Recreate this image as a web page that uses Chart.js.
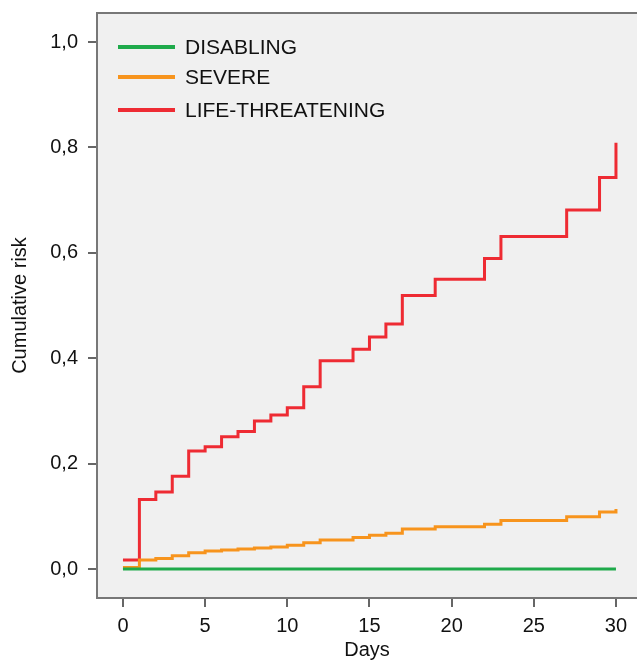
<!DOCTYPE html>
<html>
<head>
<meta charset="utf-8">
<script src="https://cdn.jsdelivr.net/npm/chart.js@4/dist/chart.umd.min.js"></script>
<style>
  html, body { margin: 0; padding: 0; background: #fff; }
  #wrap { width: 637px; height: 663px; }
</style>
</head>
<body>
<div id="wrap"><canvas id="riskChart"></canvas></div>
<script>
// days where the curve changes, and cumulative risk from that day on
const seriesNames = ['DISABLING', 'SEVERE', 'LIFE-THREATENING'];

const disablingDays = [0, 30];
const disablingRisk = [0, 0];

const severeDays = [0, 1, 2, 3, 4, 5, 6, 7, 8, 9, 10, 11, 12, 14, 15, 16, 17, 19, 22, 23, 27, 29, 30];
const severeRisk = [0.003, 0.017, 0.020, 0.025, 0.031, 0.034, 0.036, 0.038, 0.040, 0.042, 0.045, 0.050, 0.055,
                    0.060, 0.064, 0.068, 0.076, 0.080, 0.085, 0.092, 0.099, 0.108, 0.114];

const lifeDays = [0, 1, 2, 3, 4, 5, 6, 7, 8, 9, 10, 11, 12, 14, 15, 16, 17, 19, 22, 23, 27, 29, 30];
const lifeRisk = [0.017, 0.132, 0.146, 0.176, 0.224, 0.232, 0.251, 0.261, 0.281, 0.292, 0.306, 0.346, 0.395,
                  0.417, 0.440, 0.465, 0.519, 0.550, 0.589, 0.631, 0.681, 0.743, 0.809];

const xTicks = [0, 5, 10, 15, 20, 25, 30];
const yTicks = [0, 0.2, 0.4, 0.6, 0.8, 1.0];

const FONT = "'Liberation Sans', Arial, sans-serif";
const colors = ['#1faa4b', '#f7941d', '#ee2b33'];

function pts(days, vals) {
  return days.map((d, i) => ({ x: d, y: vals[i] }));
}

const plotBg = {
  id: 'plotBg',
  beforeDraw(chart) {
    const { ctx, chartArea: a } = chart;
    ctx.save();
    ctx.fillStyle = '#f0f0f0';
    ctx.fillRect(a.left, a.top, a.right - a.left, a.bottom - a.top);
    ctx.strokeStyle = '#777';
    ctx.lineWidth = 2;
    ctx.beginPath();
    ctx.moveTo(a.left, a.top);
    ctx.lineTo(a.right, a.top);
    ctx.stroke();
    ctx.restore();
  }
};

const innerLegend = {
  id: 'innerLegend',
  afterDatasetsDraw(chart) {
    const ctx = chart.ctx;
    const rows = [47, 77, 110];
    ctx.save();
    ctx.font = '21px ' + FONT;
    ctx.textBaseline = 'middle';
    chart.data.datasets.forEach((ds, i) => {
      ctx.strokeStyle = ds.borderColor;
      ctx.lineWidth = 4;
      ctx.beginPath();
      ctx.moveTo(118, rows[i]);
      ctx.lineTo(175, rows[i]);
      ctx.stroke();
      ctx.fillStyle = '#111';
      ctx.fillText(ds.label, 185, rows[i] + 1);
    });
    ctx.restore();
  }
};

new Chart(document.getElementById('riskChart'), {
  type: 'line',
  data: {
    datasets: [
      { label: seriesNames[0], data: pts(disablingDays, disablingRisk), borderColor: colors[0] },
      { label: seriesNames[1], data: pts(severeDays, severeRisk), borderColor: colors[1] },
      { label: seriesNames[2], data: pts(lifeDays, lifeRisk), borderColor: colors[2] }
    ].map(d => Object.assign(d, { stepped: 'before', borderWidth: 3, pointRadius: 0, fill: false }))
  },
  options: {
    responsive: true,
    maintainAspectRatio: false,
    animation: false,
    layout: { padding: { top: 13, left: 0, right: 0, bottom: 0 } },
    plugins: { legend: { display: false }, tooltip: { enabled: false } },
    scales: {
      x: {
        type: 'linear',
        min: -1.58,
        max: 31.28,
        afterFit(s) { s.height = 65; s.paddingLeft = 0; s.paddingRight = 0; },
        afterBuildTicks(s) { s.ticks = xTicks.map(v => ({ value: v })); },
        ticks: { font: { family: FONT, size: 20 }, color: '#111', padding: 7, maxRotation: 0 },
        grid: { drawOnChartArea: false, drawTicks: true, tickLength: 9, color: '#666', lineWidth: 2 },
        border: { display: true, color: '#777', width: 2 },
        title: { display: true, text: 'Days', font: { family: FONT, size: 20 }, color: '#111', padding: { top: 0, bottom: 1 } }
      },
      y: {
        min: -0.055,
        max: 1.055,
        afterFit(s) { s.width = 97; s.paddingTop = 0; s.paddingBottom = 0; },
        afterBuildTicks(s) { s.ticks = yTicks.map(v => ({ value: v })); },
        ticks: {
          font: { family: FONT, size: 20 }, color: '#111', padding: 10,
          callback: v => v.toFixed(1).replace('.', ',')
        },
        grid: { drawOnChartArea: false, drawTicks: true, tickLength: 9, color: '#666', lineWidth: 2 },
        border: { display: true, color: '#777', width: 2 },
        title: { display: true, text: 'Cumulative risk', font: { family: FONT, size: 20 }, color: '#111', padding: { top: 8, bottom: 0 } }
      }
    }
  },
  plugins: [plotBg, innerLegend]
});
</script>
</body>
</html>
